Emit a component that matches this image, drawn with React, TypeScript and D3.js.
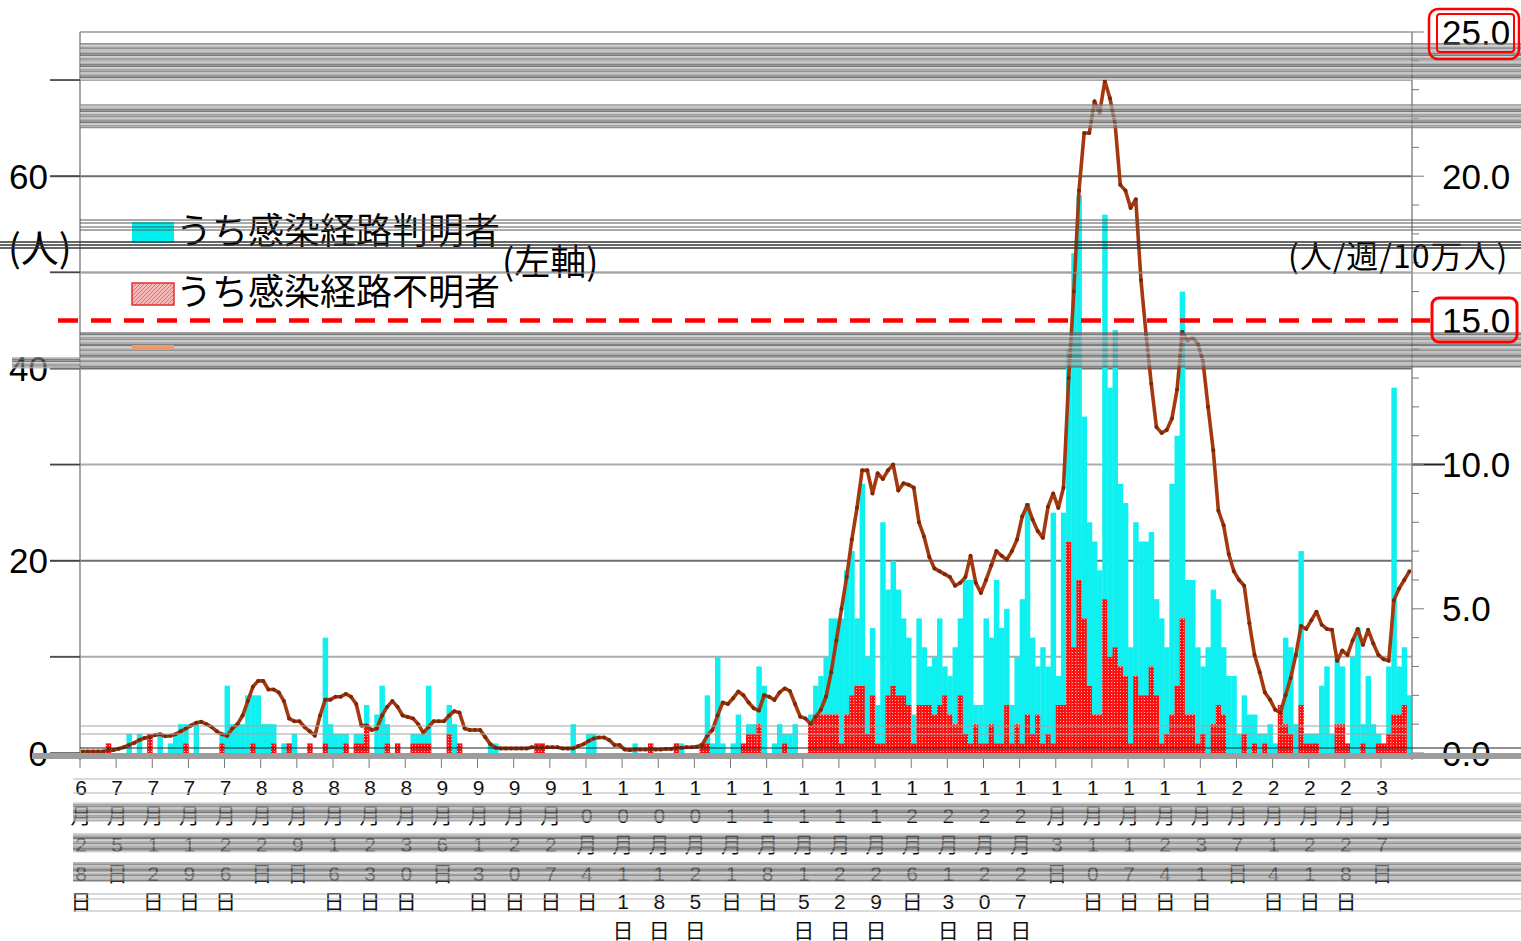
import React from 'react';
import * as d3 from 'd3';

// 6/28 から 3/12 までの日別データ
const totalCases = [
  0, 0, 0, 0, 0, 1, 0, 0, 0, 2,
  0, 2, 0, 2, 0, 2, 0, 1, 2, 3,
  3, 0, 3, 0, 0, 0, 0, 2, 7, 3,
  3, 3, 6, 6, 6, 3, 3, 3, 0, 1,
  1, 2, 0, 0, 1, 0, 0, 12, 3, 2,
  2, 2, 0, 2, 2, 5, 0, 4, 7, 3,
  0, 1, 0, 0, 2, 2, 2, 7, 0, 0,
  0, 5, 3, 1, 0, 0, 0, 0, 0, 1,
  1, 0, 0, 0, 0, 0, 0, 0, 1, 1,
  0, 0, 0, 0, 0, 3, 0, 0, 2, 2,
  0, 0, 0, 0, 0, 0, 0, 1, 0, 0,
  1, 0, 0, 0, 0, 1, 1, 0, 0, 0,
  1, 6, 1, 10, 1, 0, 1, 4, 1, 3,
  3, 9, 7, 0, 1, 3, 2, 2, 3, 0,
  0, 4, 7, 8, 10, 14, 14, 14, 19, 21,
  14, 28, 10, 13, 5, 24, 17, 20, 17, 14,
  12, 4, 14, 11, 9, 10, 14, 9, 8, 11,
  14, 18, 18, 5, 5, 14, 12, 18, 13, 15,
  5, 10, 16, 26, 12, 9, 11, 9, 25, 8,
  25, 42, 52, 58, 35, 24, 22, 19, 56, 38,
  44, 28, 26, 11, 24, 22, 22, 23, 16, 14,
  11, 28, 33, 48, 18, 18, 11, 9, 11, 17,
  16, 11, 8, 8, 2, 6, 4, 4, 2, 2,
  3, 1, 5, 12, 11, 3, 21, 2, 2, 2,
  7, 9, 2, 10, 9, 1, 10, 13, 3, 8,
  3, 2, 1, 9, 38, 9, 11, 6,
];

// うち感染経路不明者
const unknownCases = [
  0, 0, 0, 0, 0, 1, 0, 0, 0, 0,
  0, 0, 0, 2, 0, 0, 0, 0, 0, 0,
  1, 0, 0, 0, 0, 0, 0, 1, 0, 0,
  0, 0, 0, 1, 0, 0, 0, 1, 0, 0,
  1, 0, 0, 0, 1, 0, 0, 1, 0, 0,
  0, 1, 0, 1, 1, 3, 0, 0, 0, 1,
  0, 1, 0, 0, 1, 1, 1, 1, 0, 0,
  0, 2, 0, 1, 0, 0, 0, 0, 0, 0,
  0, 0, 0, 0, 0, 0, 0, 0, 1, 1,
  0, 0, 0, 0, 0, 0, 0, 0, 0, 0,
  0, 0, 0, 0, 0, 0, 0, 0, 0, 0,
  1, 0, 0, 0, 0, 1, 0, 0, 0, 0,
  1, 1, 0, 0, 0, 0, 0, 0, 1, 2,
  2, 3, 0, 0, 0, 0, 1, 0, 0, 0,
  0, 3, 4, 4, 4, 4, 4, 1, 4, 6,
  7, 7, 2, 6, 1, 1, 6, 7, 6, 6,
  5, 1, 5, 5, 5, 4, 5, 6, 4, 3,
  6, 2, 1, 3, 1, 1, 3, 1, 1, 5,
  1, 3, 1, 4, 2, 4, 1, 2, 1, 5,
  5, 22, 11, 18, 14, 7, 4, 4, 16, 10,
  11, 9, 8, 1, 8, 6, 6, 9, 6, 1,
  2, 4, 7, 14, 4, 4, 1, 2, 0, 3,
  5, 4, 0, 0, 0, 2, 0, 1, 0, 1,
  0, 0, 5, 3, 2, 0, 5, 1, 1, 1,
  0, 0, 0, 3, 3, 1, 0, 0, 1, 0,
  0, 1, 1, 2, 4, 4, 5, 0,
];

// 直近1週間の人口10万人あたり陽性者数（右軸）
const weeklyRate = [
  0.05, 0.05, 0.05, 0.05, 0.05, 0.1, 0.1, 0.15, 0.2, 0.28,
  0.35, 0.45, 0.52, 0.55, 0.62, 0.65, 0.58, 0.6, 0.65, 0.75,
  0.85, 0.95, 1.05, 1.08, 1.0, 0.9, 0.75, 0.65, 0.6, 0.85,
  1.0, 1.3, 1.8, 2.3, 2.5, 2.5, 2.2, 2.2, 2.1, 1.8,
  1.2, 1.1, 1.1, 0.9, 0.75, 0.6, 1.3, 1.85, 1.85, 1.95,
  1.95, 2.05, 1.95, 1.7, 0.95, 0.95, 0.8, 0.85, 1.3, 1.6,
  1.8, 1.6, 1.3, 1.25, 1.2, 1.0, 0.7, 0.9, 1.1, 1.1,
  1.1, 1.3, 1.45, 1.4, 0.85, 0.8, 0.8, 0.8, 0.55, 0.3,
  0.18, 0.16, 0.16, 0.16, 0.16, 0.16, 0.16, 0.2, 0.2, 0.2,
  0.2, 0.2, 0.2, 0.16, 0.16, 0.16, 0.24, 0.3, 0.42, 0.5,
  0.54, 0.54, 0.45, 0.28, 0.28, 0.12, 0.1, 0.12, 0.12, 0.12,
  0.12, 0.12, 0.12, 0.14, 0.14, 0.18, 0.18, 0.2, 0.2, 0.22,
  0.28, 0.6, 0.8, 1.3, 1.75, 1.7, 1.9, 2.13, 2.0, 1.75,
  1.55, 1.47, 2.0, 1.95, 1.84, 2.1, 2.24, 2.15, 1.7, 1.26,
  1.2, 1.0, 1.25, 1.5, 1.95, 2.8, 3.9, 5.0, 6.1, 7.4,
  8.5, 9.8, 9.8, 9.0, 9.7, 9.5, 9.8, 10.0, 9.1, 9.35,
  9.3, 9.2, 8.0, 7.5, 6.8, 6.4, 6.3, 6.2, 6.1, 5.8,
  5.9, 6.1, 6.84, 5.9, 5.55, 6.0, 6.5, 7.0, 6.84, 6.7,
  7.0, 7.4, 8.2, 8.6, 8.1, 7.7, 7.46, 8.54, 9.0, 8.5,
  9.2, 13.0, 16.0, 19.5, 21.5, 21.5, 22.6, 22.2, 23.3, 22.7,
  21.8, 19.7, 19.5, 18.9, 19.2, 16.4, 14.5, 12.8, 11.3, 11.1,
  11.2, 11.6, 12.6, 14.6, 14.3, 14.4, 14.2, 13.6, 12.0, 10.5,
  8.4, 7.9, 6.9, 6.3, 6.0, 5.8, 4.5, 3.4, 2.8, 2.1,
  1.85, 1.5, 1.4, 2.0, 2.6, 3.4, 4.4, 4.3, 4.6, 4.9,
  4.45, 4.3, 4.27, 3.2, 3.55, 3.4, 3.9, 4.3, 3.75, 4.27,
  3.8, 3.4, 3.25, 3.2, 5.3, 5.7, 6.0, 6.3,
];

const tickLabels = [
  '6月28日', '7月5日', '7月12日', '7月19日', '7月26日', '8月2日', '8月9日', '8月16日',
  '8月23日', '8月30日', '9月6日', '9月13日', '9月20日', '9月27日', '10月4日', '10月11日',
  '10月18日', '10月25日', '11月1日', '11月8日', '11月15日', '11月22日', '11月29日', '12月6日',
  '12月13日', '12月20日', '12月27日', '1月3日', '1月10日', '1月17日', '1月24日', '1月31日',
  '2月7日', '2月14日', '2月21日', '2月28日', '3月7日',
];

const leftTicks = [0, 20, 40, 60];
const leftGrid = [10, 20, 30, 40, 50, 60, 70];
const rightTicks = [0, 5, 10, 15, 20, 25];
const threshold = 15;

const legendItems = ['うち感染経路判明者', 'うち感染経路不明者'];

const W = 1521;
const H = 941;
const L = 80;
const R = 1412;
const T = 32;
const B = 753;

const numFont = "'Liberation Sans Narrow', 'Liberation Sans', 'Noto Sans CJK JP', sans-serif";
const jpFont = "'Noto Sans CJK JP', sans-serif";

const stripeColors = ['#5c5c5c', '#a3a3a3', '#7a7a7a', '#c9c9c9', '#666', '#b4b4b4', '#8c8c8c'];

// scan-like grey bands that cover the original text lines
function Stripes({ x0, x1, y0, y1, seed = 0 }: { x0: number; x1: number; y0: number; y1: number; seed?: number }) {
  const ys = d3.range(y0, y1, 1.6);
  return (
    <g opacity={0.82}>
      {ys.map((y, k) => (
        <line
          key={k}
          x1={x0}
          x2={x1}
          y1={y}
          y2={y}
          stroke={stripeColors[(k * 3 + seed) % stripeColors.length]}
          strokeWidth={1.6}
        />
      ))}
    </g>
  );
}

export default function App() {
  const days = d3.range(totalCases.length);
  const x = d3.scaleBand<number>().domain(days).range([L, R]).padding(0);
  const bw = x.bandwidth();
  const yLeft = d3.scaleLinear().domain([0, 75]).range([B, T]);
  const yRight = d3.scaleLinear().domain([0, 25]).range([B, T]);

  const line = d3
    .line<number>()
    .x((_, i) => (x(i) as number) + bw / 2)
    .y(d => yRight(d));

  const rowY = (r: number) => 787 + r * 28.7;

  return (
    <div style={{ position: 'absolute', left: 0, top: 0, background: '#fff' }}>
      <svg width={W} height={H} viewBox={`0 0 ${W} ${H}`} style={{ display: 'block' }}>
        <defs>
          <pattern id="redHatch" width="3" height="3" patternUnits="userSpaceOnUse">
            <rect width="3" height="3" fill="#ff1010" />
            <rect x="1" y="1" width="1" height="1" fill="#ffb4b4" />
          </pattern>
          <pattern id="legendHatch" width="4" height="4" patternUnits="userSpaceOnUse">
            <rect width="4" height="4" fill="#f7b7b7" />
            <path d="M0,4 L4,0" stroke="#e25a5a" strokeWidth="0.8" />
          </pattern>
        </defs>
        <rect width={W} height={H} fill="#fff" />

        {/* gridlines */}
        {leftGrid.map(v => (
          <line
            key={v}
            x1={50}
            x2={R}
            y1={yLeft(v)}
            y2={yLeft(v)}
            stroke={v % 20 === 0 ? '#6e6e6e' : '#ababab'}
            strokeWidth={2}
          />
        ))}
        <line x1={R} x2={1445} y1={yLeft(30)} y2={yLeft(30)} stroke="#222" strokeWidth={2} />
        <line x1={L} x2={R} y1={T} y2={T} stroke="#9a9a9a" strokeWidth={1.5} />

        {/* bars: 不明者 (bottom) and 判明者 (top) */}
        <g>
          {days.map(i => {
            const tot = totalCases[i];
            const unk = unknownCases[i];
            if (tot === 0) return null;
            const x0 = x(i) as number;
            return (
              <g key={i}>
                {tot > unk && (
                  <rect
                    x={x0}
                    y={yLeft(tot)}
                    width={bw + 0.3}
                    height={yLeft(unk) - yLeft(tot)}
                    fill="#0ff0f0"
                  />
                )}
                {unk > 0 && (
                  <rect
                    x={x0}
                    y={yLeft(unk)}
                    width={bw + 0.3}
                    height={yLeft(0) - yLeft(unk)}
                    fill="url(#redHatch)"
                  />
                )}
              </g>
            );
          })}
        </g>

        {/* 7-day rate line */}
        <path d={line(weeklyRate) || ''} fill="none" stroke="#a5380f" strokeWidth={3.6} strokeLinejoin="round" />
        {weeklyRate.map((v, i) => (
          <circle key={i} cx={(x(i) as number) + bw / 2} cy={yRight(v)} r={2} fill="#7a2808" />
        ))}

        {/* axes */}
        <line x1={L} x2={L} y1={T} y2={760} stroke="#8a8a8a" strokeWidth={1.5} />
        <line x1={R} x2={R} y1={T} y2={760} stroke="#8a8a8a" strokeWidth={1.5} />
        {d3.range(0, 71, 10).map(v => (
          <line key={v} x1={50} x2={L} y1={yLeft(v)} y2={yLeft(v)} stroke="#444" strokeWidth={1.5} />
        ))}
        {d3.range(0, 26, 1).map(v => (
          <line
            key={v}
            x1={R}
            x2={R + (v % 5 === 0 ? 12 : 7)}
            y1={yRight(v)}
            y2={yRight(v)}
            stroke="#777"
            strokeWidth={1}
          />
        ))}
        {leftTicks.map(v => (
          <text
            key={v}
            x={48}
            y={yLeft(v)}
            textAnchor="end"
            dominantBaseline="central"
            fontFamily={numFont}
            fontSize={35}
            fill="#000"
          >
            {v}
          </text>
        ))}
        {rightTicks.map(v => (
          <text
            key={v}
            x={1442}
            y={yRight(v)}
            dominantBaseline="central"
            fontFamily={numFont}
            fontSize={35}
            fill="#000"
          >
            {d3.format('.1f')(v)}
          </text>
        ))}

        {/* baseline */}
        <line x1={L} x2={W} y1={748} y2={748} stroke="#222" strokeWidth={1.2} />
        <rect x={32} y={753} width={W - 32} height={6} fill="#9d9d9d" />
        {tickLabels.map((_, k) => (
          <line key={k} x1={x(k * 7)} x2={x(k * 7)} y1={759} y2={768} stroke="#777" strokeWidth={1} />
        ))}

        {/* x labels, written vertically */}
        {tickLabels.map((lab, k) => (
          <g key={lab}>
            {Array.from(lab).map((ch, r) => (
              <text
                key={r}
                x={(x(k * 7) as number) + 1}
                y={rowY(r)}
                textAnchor="middle"
                dominantBaseline="central"
                fontFamily={numFont}
                fontSize={21}
                fill="#111"
              >
                {ch}
              </text>
            ))}
          </g>
        ))}

        {/* axis titles */}
        <text x={8} y={262} fontFamily={jpFont} fontSize={38} fill="#000">(人)</text>
        <text x={1288} y={268} fontFamily={jpFont} fontSize={32} letterSpacing={1} fill="#000">(人/週/10万人)</text>

        {/* legend */}
        <rect x={132} y={222} width={42} height={21} fill="#00f0f0" />
        <text x={176} y={244} fontFamily={jpFont} fontSize={36} fill="#000">{legendItems[0]}</text>
        <rect x={132} y={283} width={42} height={22} fill="url(#legendHatch)" stroke="#e03030" strokeWidth={1.5} />
        <text x={176} y={305} fontFamily={jpFont} fontSize={36} fill="#000">{legendItems[1]}</text>
        <text x={502} y={275} fontFamily={jpFont} fontSize={36} fill="#000">(左軸)</text>

        {/* scan artefact bands */}
        <Stripes x0={L} x1={W} y0={44} y1={80} seed={0} />
        <Stripes x0={L} x1={W} y0={105} y1={129} seed={2} />
        <Stripes x0={L} x1={W} y0={333} y1={368} seed={4} />
        <Stripes x0={12} x1={L} y0={358} y1={368} seed={1} />
        <Stripes x0={73} x1={W} y0={803} y1={822} seed={3} />
        <Stripes x0={73} x1={W} y0={834} y1={853} seed={5} />
        <Stripes x0={73} x1={W} y0={863} y1={882} seed={6} />
        {[220, 223, 227, 230].map(y => (
          <line key={y} x1={L} x2={W} y1={y} y2={y} stroke="#555" strokeWidth={1} />
        ))}
        {[242, 245, 248].map(y => (
          <line key={y} x1={0} x2={W} y1={y} y2={y} stroke="#333" strokeWidth={1.3} />
        ))}
        <line x1={L} x2={W} y1={273} y2={273} stroke="#999" strokeWidth={1.2} />
        {[726, 734].map(y => (
          <line key={y} x1={L} x2={R} y1={y} y2={y} stroke="#a5a5a5" strokeWidth={1.2} />
        ))}
        {[779, 793, 894, 899, 911].map(y => (
          <line key={y} x1={73} x2={W} y1={y} y2={y} stroke="#b5b5b5" strokeWidth={1} />
        ))}
        <line x1={132} x2={174} y1={347} y2={347} stroke="#ee9a6a" strokeWidth={4} />

        {/* 15.0 threshold */}
        <line
          x1={58}
          x2={1430}
          y1={yRight(threshold)}
          y2={yRight(threshold)}
          stroke="#ff0000"
          strokeWidth={4.5}
          strokeDasharray="20 13"
        />
        <rect x={1432} y={298} width={85} height={44} rx={7} fill="none" stroke="#ff0000" strokeWidth={3} />
        <rect x={1429} y={9} width={90} height={50} rx={9} fill="none" stroke="#ff0000" strokeWidth={2.5} />
        <rect x={1437} y={14} width={77} height={38} rx={3} fill="none" stroke="#ff0000" strokeWidth={2} />
      </svg>
    </div>
  );
}
